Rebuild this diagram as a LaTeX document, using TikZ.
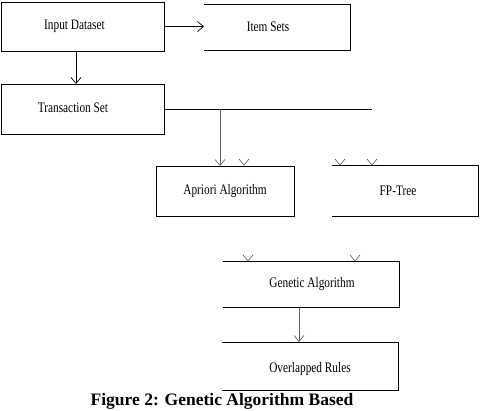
\documentclass[tikz,border=0pt]{standalone}
\usepackage{fontspec}
\setmainfont{Liberation Serif}
\usetikzlibrary{arrows.meta}
\newcommand{\cnd}[1]{\scalebox{0.78}[1]{#1}}
\begin{document}
\begin{tikzpicture}[x=1pt,y=-1pt,
  line width=0.9pt,
  boxfull/.style={draw, inner sep=0pt, outer sep=0pt},
  boxopen/.style={inner sep=0pt, outer sep=0pt},
  txt/.style={font=\fontsize{14.5}{14.5}\selectfont},
  arr/.style={-{Straight Barb[length=6pt,width=10pt,line width=0.7pt]}},
  chev/.style={line width=0.6pt, gray!70!black}]
\useasboundingbox (0,0) rectangle (481,410);
\clip (0,0) rectangle (481,410);

% boxes
\node[boxfull, minimum width=163, minimum height=49,
  label={[txt,xshift=-8pt]center:\cnd{Input Dataset}}] (input) at (82.5,26.5) {};
\node[boxopen, minimum width=146, minimum height=46,
  label={[txt,xshift=-9pt]center:\cnd{Item Sets}}] (items) at (277,27) {};
\node[boxfull, minimum width=163, minimum height=50,
  label={[txt,xshift=-9.5pt,yshift=1.5pt]center:\cnd{Transaction Set}}] (trans) at (82.5,109) {};
\node[boxfull, minimum width=138, minimum height=50,
  label={[txt]center:\cnd{Apriori Algorithm}}] (apriori) at (225,191) {};
\node[boxopen, minimum width=146, minimum height=51,
  label={[txt,xshift=-7pt]center:\cnd{FP-Tree}}] (fptree) at (405,190.5) {};
\node[boxopen, minimum width=176, minimum height=46,
  label={[txt,xshift=1pt]center:\cnd{Genetic Algorithm}}] (genetic) at (311,284) {};
\node[boxopen, minimum width=176, minimum height=48,
  label={[txt,yshift=-3pt]center:\cnd{Overlapped Rules}}] (overlap) at (310,366) {};

% open-left boxes: three sides
\foreach \n in {items,fptree,genetic,overlap}
  \draw (\n.north west) -- (\n.north east) -- (\n.south east) -- (\n.south west);

% connectors
\draw[arr] (input.east) -- (items.west |- input.east);
\draw[arr] ([xshift=-6.5pt]input.south) -- ([xshift=-6.5pt]trans.north);
\coordinate (tend) at (372,109);
\coordinate (tj) at (220,109);
\draw (trans.east) -- (tend);
\draw[arr, draw=gray!80!black] (tj) -- (tj |- apriori.north);
\draw[arr, draw=gray!80!black] ([xshift=-12pt]genetic.south) -- ([xshift=-12pt]genetic.south |- overlap.north);

% stray arrow heads
\foreach \cx/\cy in {244/165, 340/165, 372/165, 248/261, 355/261}
  \draw[chev] (\cx-5,\cy-6) -- (\cx,\cy) -- (\cx+5,\cy-6);

% caption
\node[anchor=base, font=\fontsize{17.5}{17.5}\selectfont\bfseries, inner sep=0pt] (cap) at (222,405)
  {Figure 2: Genetic Algorithm Based};
\end{tikzpicture}
\end{document}
